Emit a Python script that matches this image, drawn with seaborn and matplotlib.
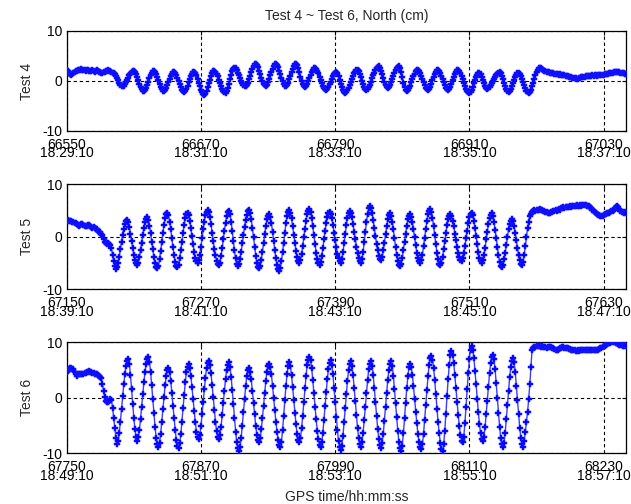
import numpy as np
import pandas as pd
import matplotlib
matplotlib.use("Agg")
import matplotlib.pyplot as plt
import seaborn as sns

# ---------------- data (1 sample / s) ----------------
start_times = [66550, 67150, 67750]
test_names = ["Test 4", "Test 5", "Test 6"]

tick_offsets = [0, 120, 240, 360, 480]
tick_times = [
    ["18:29:10", "18:31:10", "18:33:10", "18:35:10", "18:37:10"],
    ["18:39:10", "18:41:10", "18:43:10", "18:45:10", "18:47:10"],
    ["18:49:10", "18:51:10", "18:53:10", "18:55:10", "18:57:10"],
]

test4_north = [
    2.3, 2.0, 1.7, 1.4, 1.2, 1.4, 1.6, 1.8, 2.0, 2.1,
    2.2, 2.3, 2.3, 2.4, 2.2, 2.3, 2.2, 2.1, 2.2, 2.3,
    2.1, 2.0, 2.1, 2.2, 2.0, 1.9, 2.1, 2.2, 2.0, 1.9,
    1.8, 1.7, 1.6, 1.8, 1.9, 2.0, 2.1, 2.2, 2.1, 2.0,
    1.8, 1.7, 1.6, 1.4, 1.1, 0.7, 0.2, -0.3, -0.7, -0.9,
    -1.0,
    -0.9, -0.6, -0.2, 0.3, 0.7, 1.2, 1.5, 1.9, 2.0, 2.1,
    1.9, 1.4, 0.8, 0.2, -0.5, -1.1, -1.6, -1.9, -2.0,
    -1.8, -1.3, -0.7, -0.1, 0.6, 1.2, 1.7, 2.0, 2.1,
    1.9, 1.4, 0.8, 0.2, -0.5, -1.1, -1.6, -1.9, -2.0,
    -1.8, -1.4, -0.8, -0.2, 0.5, 1.0, 1.5, 1.8, 1.9,
    1.7, 1.3, 0.7, 0.0, -0.6, -1.2, -1.7, -2.0, -2.1,
    -1.9, -1.5, -0.9, -0.2, 0.4, 1.0, 1.5, 1.8, 1.9,
    1.7, 1.2, 0.5, -0.3, -1.0, -1.7, -2.2, -2.6, -2.7,
    -2.5, -1.9, -1.2, -0.4, 0.3, 1.0, 1.6, 2.0, 2.1,
    1.9, 1.5, 1.0, 0.3, -0.4, -1.0, -1.5, -2.0, -2.2, -2.3,
    -2.0, -1.3, -0.5, 0.5, 1.3, 2.0, 2.5, 2.7,
    2.6, 2.2, 1.7, 1.2, 0.6, 0.1, -0.3, -0.7, -0.9, -1.0,
    -0.8, -0.3, 0.4, 1.1, 1.8, 2.5, 3.1, 3.4, 3.5,
    3.3, 2.8, 2.1, 1.4, 0.7, 0.1, -0.5, -0.8, -0.9,
    -0.7, -0.2, 0.5, 1.2, 1.9, 2.5, 3.1, 3.4, 3.5,
    3.3, 2.8, 2.1, 1.4, 0.7, 0.0, -0.6, -0.9, -1.0,
    -0.8, -0.3, 0.4, 1.1, 1.8, 2.5, 3.1, 3.4, 3.5,
    3.2, 2.6, 1.8, 0.9, 0.1, -0.5, -1.0, -1.2,
    -1.0, -0.6, 0.0, 0.6, 1.3, 1.8, 2.3, 2.6, 2.7,
    2.5, 2.1, 1.6, 0.9, 0.2, -0.4, -0.9, -1.4, -1.6, -1.7,
    -1.5, -1.1, -0.6, -0.1, 0.5, 1.0, 1.5, 1.7, 1.8,
    1.6, 1.0, 0.3, -0.5, -1.2, -1.7, -2.1, -2.3,
    -2.2, -1.8, -1.3, -0.7, -0.1, 0.5, 1.1, 1.6, 1.9, 2.2, 2.3,
    2.1, 1.5, 0.8, 0.1, -0.6, -1.1, -1.5, -1.7,
    -1.6, -1.2, -0.7, -0.1, 0.6, 1.2, 1.7, 2.3, 2.6, 2.9, 3.0,
    2.7, 2.1, 1.4, 0.6, -0.1, -0.7, -1.1, -1.3,
    -1.1, -0.7, -0.2, 0.5, 1.1, 1.7, 2.2, 2.7, 2.9, 3.0,
    2.6, 1.8, 0.8, -0.3, -1.1, -1.8, -2.0,
    -1.8, -1.4, -0.9, -0.2, 0.4, 1.0, 1.5, 2.0, 2.2, 2.3,
    2.1, 1.7, 1.1, 0.4, -0.2, -0.8, -1.3, -1.6, -1.7,
    -1.5, -1.1, -0.5, 0.2, 0.8, 1.4, 1.9, 2.2, 2.3,
    2.1, 1.7, 1.1, 0.4, -0.2, -0.8, -1.3, -1.6, -1.7,
    -1.5, -1.1, -0.5, 0.2, 0.8, 1.4, 1.9, 2.2, 2.3,
    2.1, 1.7, 1.1, 0.4, -0.3, -0.9, -1.5, -1.9, -2.2, -2.3,
    -2.1, -1.7, -1.1, -0.4, 0.2, 0.8, 1.3, 1.6, 1.7,
    1.4, 0.9, 0.3, -0.4, -0.9, -1.3, -1.5,
    -1.4, -1.1, -0.8, -0.3, 0.1, 0.5, 0.9, 1.3, 1.5, 1.7, 1.8,
    1.6, 1.0, 0.4, -0.3, -1.0, -1.6, -1.9, -2.1,
    -1.9, -1.5, -0.9, -0.3, 0.3, 0.9, 1.3, 1.6, 1.7,
    1.5, 1.1, 0.5, -0.2, -0.8, -1.4, -1.9, -2.2, -2.3,
    -2.1, -1.7, -1.0, -0.3, 0.5, 1.2, 1.8, 2.3, 2.6, 2.7,
    2.6, 2.4, 2.3, 2.1, 2.0, 1.9, 1.9, 1.8, 1.7, 1.7,
    1.6, 1.7, 1.5, 1.4, 1.5, 1.4, 1.3, 1.4, 1.3, 1.2,
    1.3, 1.2, 1.1, 1.0, 1.0, 0.9, 0.8, 0.8, 0.7, 0.7,
    0.6, 0.6, 0.5, 0.5, 0.6, 0.7, 0.8, 0.8, 0.9, 0.9,
    1.0, 1.0, 1.0, 1.1, 1.0, 1.1, 1.2, 1.1, 1.2, 1.2,
    1.1, 1.2, 1.3, 1.2, 1.3, 1.3, 1.3, 1.4, 1.4, 1.5,
    1.5, 1.6, 1.6, 1.7, 1.7, 1.8, 1.8, 1.9, 1.9, 1.9,
    1.8, 1.7, 1.7, 1.6, 1.6, 1.5, 1.5,
]

test5_north = [
    3.0, 3.2, 3.1, 3.0, 3.1, 2.9, 2.9, 2.7, 2.6, 2.4,
    2.2, 2.1, 2.3, 2.5, 2.4, 2.3, 2.1, 2.0, 2.1, 2.3,
    2.2, 2.0, 1.8, 1.7, 1.8, 1.6, 1.5, 1.4, 1.2, 1.0,
    0.9, 0.6, 0.3, -0.5, -1.0, -1.2, -1.3, -1.2, -1.4, -1.6,
    -2.2, -3.4, -4.6, -5.6, -6.2,
    -5.8, -5.0, -3.8, -2.3, -0.9, 0.4, 1.5, 2.4, 3.0, 3.2,
    2.8, 1.8, 0.6, -0.8, -2.2, -3.4, -4.5, -5.0, -5.3,
    -4.9, -3.9, -2.5, -1.1, 0.4, 1.7, 2.8, 3.4, 3.7,
    3.2, 2.1, 0.7, -0.9, -2.4, -3.9, -5.0, -5.7, -6.0,
    -5.5, -4.3, -2.7, -1.0, 0.7, 2.3, 3.5, 4.3, 4.6,
    4.1, 2.9, 1.4, -0.3, -2.0, -3.5, -4.8, -5.5, -5.8,
    -5.3, -4.1, -2.6, -0.9, 0.8, 2.3, 3.6, 4.3, 4.6,
    4.1, 3.1, 1.6, 0.1, -1.4, -2.9, -4.0, -4.7, -5.0,
    -4.5, -3.4, -1.9, -0.3, 1.4, 2.9, 4.1, 4.8, 5.1,
    4.7, 3.7, 2.4, 0.8, -0.8, -2.3, -3.5, -4.6, -5.2, -5.4,
    -4.9, -3.7, -2.2, -0.5, 1.2, 2.7, 4.0, 4.7, 5.0,
    4.4, 2.9, 1.1, -0.8, -2.6, -4.1, -5.2, -5.6,
    -5.2, -4.2, -2.8, -1.2, 0.4, 1.9, 3.2, 4.2, 4.9, 5.1,
    4.5, 3.3, 1.7, -0.1, -1.9, -3.6, -4.9, -5.7, -6.0,
    -5.5, -4.4, -2.8, -1.2, 0.5, 2.0, 3.3, 4.0, 4.3,
    3.8, 2.6, 1.0, -0.8, -2.5, -4.1, -5.4, -6.2, -6.5,
    -5.9, -4.6, -2.9, -1.1, 0.8, 2.6, 3.9, 4.8, 5.1,
    4.6, 3.5, 2.0, 0.4, -1.2, -2.7, -3.9, -4.6, -4.9,
    -4.4, -3.3, -1.7, -0.1, 1.5, 3.1, 4.3, 5.0, 5.3,
    4.8, 3.6, 2.0, 0.3, -1.4, -3.0, -4.2, -5.0, -5.3,
    -4.8, -3.7, -2.2, -0.5, 1.1, 2.6, 3.8, 4.5, 4.8,
    4.4, 3.5, 2.3, 0.8, -0.6, -2.0, -3.2, -4.1, -4.7, -4.9,
    -4.3, -2.9, -1.2, 0.5, 2.2, 3.6, 4.6, 5.0,
    4.6, 3.7, 2.4, 0.9, -0.5, -1.9, -3.1, -4.1, -4.7, -4.9,
    -4.3, -2.8, -0.9, 1.0, 2.8, 4.3, 5.4, 5.8,
    5.4, 4.5, 3.2, 1.6, 0.1, -1.3, -2.6, -3.6, -4.2, -4.4,
    -3.9, -2.6, -1.1, 0.5, 2.0, 3.3, 4.1, 4.5,
    4.0, 2.9, 1.4, -0.3, -1.9, -3.4, -4.6, -5.3, -5.6,
    -5.1, -4.0, -2.5, -1.0, 0.6, 2.1, 3.3, 4.0, 4.3,
    3.8, 2.8, 1.4, -0.1, -1.6, -3.0, -4.1, -4.7, -5.0,
    -4.5, -3.4, -1.8, -0.2, 1.5, 3.0, 4.3, 5.0, 5.3,
    4.8, 3.6, 2.0, 0.3, -1.4, -3.1, -4.3, -5.1, -5.4,
    -4.9, -3.9, -2.4, -0.8, 0.7, 2.2, 3.3, 4.0, 4.3,
    3.9, 3.1, 2.0, 0.6, -0.7, -1.9, -3.0, -3.9, -4.4, -4.6,
    -4.1, -3.1, -1.8, -0.3, 1.2, 2.6, 3.7, 4.3, 4.6,
    4.1, 3.1, 1.6, 0.1, -1.4, -2.9, -4.0, -4.7, -5.0,
    -4.5, -3.5, -2.1, -0.5, 1.0, 2.4, 3.6, 4.2, 4.5,
    4.0, 2.9, 1.3, -0.3, -2.0, -3.5, -4.8, -5.5, -5.8,
    -5.3, -4.3, -3.0, -1.5, 0.0, 1.4, 2.5, 3.1, 3.4,
    3.0, 2.0, 0.7, -0.7, -2.1, -3.5, -4.5, -5.1, -5.4,
    -4.8, -3.5, -1.8, -0.1, 1.6, 2.9, 3.9, 4.3,
    4.7, 5.0, 5.1, 5.0, 5.2, 5.1, 5.2, 5.3, 5.1, 5.2,
    5.0, 4.9, 4.8, 4.7, 4.6, 4.5, 4.6, 4.7, 4.8, 4.9,
    5.0, 5.1, 5.0, 5.2, 5.3, 5.2, 5.4, 5.5, 5.6, 5.5,
    5.6, 5.7, 5.6, 5.7, 5.8, 5.7, 5.8, 5.9, 5.8, 5.9,
    6.0, 5.9, 5.9, 6.0, 5.9, 6.0, 6.1, 6.0, 6.0, 5.9,
    5.9, 5.8, 5.6, 5.4, 5.2, 5.0, 4.8, 4.6, 4.4, 4.2,
    4.1, 4.0, 3.9, 4.0, 4.2, 4.3, 4.4, 4.5, 4.5, 4.6,
    4.7, 4.9, 5.0, 5.2, 5.4, 5.6, 5.8, 5.6, 5.3, 5.0,
    4.8, 4.7, 4.6, 4.7, 4.6,
]

test6_north = [
    4.6, 4.9, 5.2, 5.4, 5.3, 5.2, 5.1, 4.7, 4.3, 4.0,
    4.2, 4.3, 4.3, 4.2, 4.3, 4.2, 4.4, 4.5, 4.6, 4.7,
    4.8, 4.7, 4.6, 4.5, 4.4, 4.3, 4.2, 4.2, 4.1, 4.0,
    3.8, 3.6, 2.4, 1.2, 0.2, -0.6, -0.8, -0.7, -0.5, -0.3,
    -0.4, -1.8, -3.6, -5.5, -7.2, -8.3,
    -7.7, -6.3, -4.3, -2.0, 0.3, 2.4, 4.2, 5.8, 6.7, 7.0,
    6.1, 4.1, 1.6, -1.1, -3.6, -5.6, -7.1, -7.7,
    -7.1, -5.8, -3.8, -1.6, 0.7, 2.8, 4.6, 6.1, 7.0, 7.3,
    6.5, 4.7, 2.3, -0.3, -2.8, -5.3, -7.2, -8.3, -8.8,
    -8.1, -6.5, -4.4, -2.1, 0.1, 2.3, 4.0, 5.0, 5.4,
    4.7, 3.1, 0.9, -1.4, -3.7, -5.8, -7.6, -8.6, -9.0,
    -8.2, -6.6, -4.3, -1.9, 0.5, 2.8, 4.6, 5.6, 6.1,
    5.4, 3.9, 1.9, -0.3, -2.4, -4.4, -6.1, -7.0, -7.4,
    -6.7, -5.1, -3.0, -0.8, 1.5, 3.6, 5.3, 6.3, 6.7,
    6.0, 4.4, 2.3, 0.1, -2.2, -4.3, -6.0, -7.0, -7.4,
    -6.7, -5.2, -3.1, -0.9, 1.3, 3.4, 5.0, 6.0, 6.4,
    5.6, 3.8, 1.4, -1.1, -3.7, -6.1, -8.0, -9.1, -9.6,
    -8.9, -7.2, -5.0, -2.6, -0.2, 2.1, 3.9, 5.0, 5.4,
    4.7, 3.3, 1.2, -0.9, -3.0, -5.1, -6.7, -7.6, -8.0,
    -7.3, -5.7, -3.6, -1.4, 0.9, 3.0, 4.7, 5.7, 6.1,
    5.5, 4.2, 2.2, 0.0, -2.2, -4.3, -6.1, -7.6, -8.5, -8.8,
    -7.9, -5.8, -3.2, -0.4, 2.1, 4.3, 5.8, 6.4,
    5.7, 4.1, 1.9, -0.4, -2.7, -4.8, -6.6, -7.6, -8.0,
    -7.2, -5.5, -3.2, -0.8, 1.7, 4.0, 5.9, 6.9, 7.4,
    6.8, 5.3, 3.2, 0.8, -1.7, -3.9, -5.9, -7.5, -8.5, -8.8,
    -8.0, -6.3, -4.0, -1.5, 1.0, 3.4, 5.2, 6.3, 6.8,
    6.0, 4.2, 1.8, -0.8, -3.4, -5.8, -7.8, -8.9, -9.4,
    -8.6, -6.8, -4.4, -1.9, 0.7, 3.1, 5.0, 6.1, 6.6,
    5.8, 4.1, 1.8, -0.6, -3.1, -5.4, -7.3, -8.3, -8.8,
    -8.0, -6.3, -4.0, -1.6, 0.9, 3.2, 5.1, 6.1, 6.6,
    5.8, 4.1, 1.8, -0.7, -3.2, -5.6, -7.4, -8.5, -9.0,
    -8.2, -6.5, -4.2, -1.7, 0.8, 3.2, 5.0, 6.1, 6.6,
    5.8, 4.0, 1.6, -1.0, -3.5, -6.0, -7.9, -9.0, -9.5,
    -8.6, -6.4, -3.7, -0.9, 1.7, 3.9, 5.5, 6.1,
    5.5, 4.1, 2.1, -0.2, -2.5, -4.6, -6.5, -8.0, -8.9, -9.2,
    -8.4, -6.5, -4.0, -1.3, 1.4, 3.9, 5.9, 7.1, 7.6,
    6.9, 5.4, 3.2, 0.6, -2.0, -4.4, -6.4, -8.1, -9.2, -9.5,
    -8.4, -5.9, -2.9, 0.3, 3.4, 5.9, 7.7, 8.4,
    7.7, 6.3, 4.1, 1.7, -0.8, -3.1, -5.0, -6.7, -7.7, -8.0,
    -7.0, -4.5, -1.6, 1.6, 4.5, 7.0, 8.7, 9.4,
    8.7, 7.2, 4.9, 2.4, -0.2, -2.6, -4.7, -6.4, -7.5, -7.8,
    -7.0, -5.3, -3.0, -0.5, 2.0, 4.4, 6.2, 7.3, 7.8,
    7.0, 5.1, 2.6, -0.1, -2.7, -5.2, -7.2, -8.4, -8.9,
    -8.1, -6.3, -3.9, -1.3, 1.2, 3.7, 5.6, 6.7, 7.2,
    6.4, 4.6, 2.2, -0.4, -2.9, -5.4, -7.3, -8.4, -8.9,
    -7.8, -6.2, -4.4, -2.5, -0.3, 2.4, 5.5, 8.6,
    8.9, 9.1, 9.2, 9.3, 9.3, 9.4, 9.3, 9.2, 9.3, 9.1,
    9.1, 9.2, 9.0, 9.1, 9.2, 9.2, 9.1, 9.0, 8.9, 8.8,
    8.7, 8.6, 8.7, 8.8, 8.9, 9.0, 9.1, 9.1, 9.0, 8.9,
    9.0, 8.9, 8.8, 8.8, 8.7, 8.7, 8.6, 8.6, 8.5, 8.5,
    8.6, 8.5, 8.6, 8.6, 8.7, 8.6, 8.6, 8.7, 8.6, 8.6,
    8.7, 8.6, 8.7, 8.6, 8.7, 8.6, 8.7, 8.6, 8.7, 8.8,
    8.9, 9.0, 9.1, 9.3, 9.4, 9.5, 9.7, 9.8, 9.9, 9.9,
    10.0, 10.0, 10.0, 10.0, 9.9, 9.8, 9.7, 9.6, 9.5, 9.5,
    9.4, 9.4, 9.5, 9.4,
]

series = [test4_north, test5_north, test6_north]

# ---------------- style ----------------
sns.set_style("white")
plt.rcParams["font.family"] = ["Liberation Sans", "DejaVu Sans"]
plt.rcParams["font.size"] = 10

fig = plt.figure(figsize=(6.31, 5.04), dpi=100)
fig.patch.set_facecolor("white")

W, H = 631.0, 504.0
left_px, right_px = 66.7, 626.0
axes_px = [(31.0, 131.0), (184.3, 289.3), (342.3, 453.3)]

for i, (vals, start) in enumerate(zip(series, start_times)):
    top, bot = axes_px[i]
    ax = fig.add_axes([left_px / W, 1 - bot / H, (right_px - left_px) / W, (bot - top) / H])
    df = pd.DataFrame({"t": start + np.arange(len(vals)), "v": vals})
    sns.lineplot(data=df, x="t", y="v", ax=ax, color="#0000ff", linewidth=1.0,
                 marker="P", markersize=5.0, markeredgewidth=0.35,
                 markeredgecolor="#2020ff",
                 estimator=None, sort=False, zorder=3)
    ln = ax.lines[-1]
    ln.set_color("#3c3cff")
    ln.set_markerfacecolor("#0000ff")
    ax.set_xlim(start, start + 500)
    ax.set_ylim(-10, 10)
    ticks = [start + o for o in tick_offsets]
    ax.set_xticks(ticks)
    ax.set_xticklabels([f"{t}\n{lab}" for t, lab in zip(ticks, tick_times[i])],
                       fontsize=10)
    for lab in ax.get_xticklabels():
        lab.set_linespacing(0.5)
    ax.set_yticks([-10, 0, 10])
    ax.set_yticklabels(["-10", "0", "10"], fontsize=10)
    ax.grid(True, color="black", linestyle=(0, (3, 2.5)), linewidth=0.8)
    ax.set_axisbelow(True)
    for sp in ax.spines.values():
        sp.set_color("black")
        sp.set_linewidth(0.9)
        sp.set_visible(True)
    ax.tick_params(axis="y", direction="in", length=3, width=0.8,
                   right=True, pad=3, colors="black")
    ax.tick_params(axis="x", direction="in", length=3, width=0.8,
                   top=True, pad=5, colors="black")
    ax.set_ylabel(test_names[i], fontsize=10, labelpad=6)
    ax.set_xlabel("")
    if i == 0:
        ax.set_title("Test 4 ~ Test 6, North (cm)", fontsize=10, pad=8)
    if i == 2:
        ax.set_xlabel("GPS time/hh:mm:ss", fontsize=10, labelpad=5)

fig.savefig("out.png", dpi=100, facecolor="white")
